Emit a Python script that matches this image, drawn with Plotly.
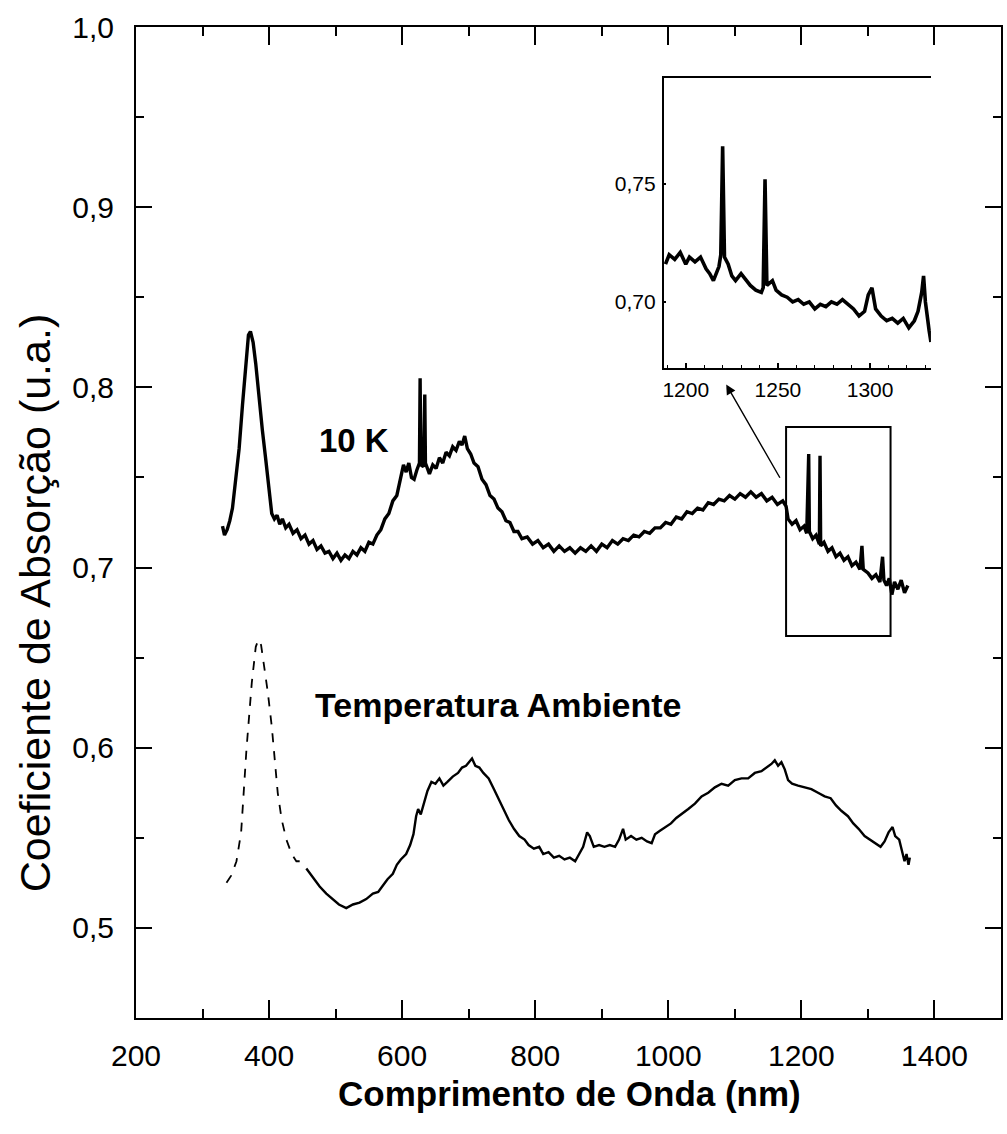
import plotly.graph_objects as go

# ---- tick labels ----
x_tick_vals = [200, 400, 600, 800, 1000, 1200, 1400]
x_tick_text = ["200", "400", "600", "800", "1000", "1200", "1400"]
y_tick_vals = [0.5, 0.6, 0.7, 0.8, 0.9, 1.0]
y_tick_text = ["0,5", "0,6", "0,7", "0,8", "0,9", "1,0"]
inset_x_tick_vals = [1200, 1250, 1300]
inset_x_tick_text = ["1200", "1250", "1300"]
inset_y_tick_vals = [0.70, 0.75]
inset_y_tick_text = ["0,70", "0,75"]

# ---- spectrum at 10 K ----
wl_10k = [330, 333, 337, 341, 345, 350, 355, 360, 365, 369, 372, 376, 380, 385, 390, 395,
          400, 404, 408, 412, 416, 420, 425, 430, 436, 442, 448, 454, 460, 466, 472, 478,
          484, 490, 496, 502, 508, 514, 520, 526, 532, 538, 544, 550, 556, 562, 568, 574,
          580, 586, 592, 597, 602, 606, 610, 614, 618, 622, 626, 627, 628, 632, 634, 635,
          641, 646, 651, 656, 661, 666, 671, 676, 681, 686, 690, 694, 698, 703, 708, 714,
          720, 726, 732, 738, 744, 750, 756, 762, 768, 774, 780, 788, 796, 804, 812, 820,
          828, 836, 844, 852, 860, 868, 876, 884, 892, 900, 908, 916, 924, 932, 940, 948,
          956, 964, 972, 980, 988, 996, 1004, 1012, 1020, 1028, 1036, 1044, 1052, 1060,
          1068, 1076, 1084, 1092, 1100, 1108, 1116, 1124, 1132, 1140, 1148, 1156, 1164,
          1172, 1177, 1180, 1186, 1192, 1198, 1204, 1208, 1211, 1212, 1217, 1222, 1227,
          1228, 1229, 1234, 1240, 1246, 1252, 1258, 1264, 1270, 1276, 1282, 1288, 1291,
          1293, 1300, 1306, 1312, 1318, 1322, 1324, 1328, 1332, 1336, 1340, 1345, 1350,
          1355, 1360]
abs_10k = [0.723, 0.718, 0.721, 0.726, 0.733, 0.748, 0.766, 0.790, 0.815, 0.829, 0.831, 0.825,
           0.813, 0.793, 0.776, 0.760, 0.742, 0.730, 0.727, 0.729, 0.724, 0.727, 0.722, 0.724,
           0.719, 0.721, 0.716, 0.718, 0.713, 0.715, 0.710, 0.712, 0.708, 0.709, 0.705, 0.708,
           0.704, 0.707, 0.705, 0.709, 0.707, 0.711, 0.709, 0.714, 0.713, 0.718, 0.721, 0.727,
           0.730, 0.737, 0.740, 0.748, 0.757, 0.753, 0.758, 0.750, 0.749, 0.754, 0.758, 0.805,
           0.757, 0.756, 0.796, 0.758, 0.752, 0.757, 0.755, 0.761, 0.758, 0.764, 0.762, 0.767,
           0.765, 0.770, 0.768, 0.773, 0.766, 0.763, 0.758, 0.756, 0.749, 0.746, 0.740, 0.738,
           0.733, 0.731, 0.726, 0.725, 0.720, 0.720, 0.716, 0.717, 0.713, 0.715, 0.711, 0.713,
           0.709, 0.712, 0.709, 0.711, 0.708, 0.711, 0.709, 0.712, 0.709, 0.713, 0.711, 0.715,
           0.713, 0.716, 0.715, 0.718, 0.717, 0.720, 0.719, 0.722, 0.722, 0.725, 0.724, 0.728,
           0.727, 0.731, 0.730, 0.733, 0.732, 0.736, 0.735, 0.738, 0.737, 0.740, 0.738, 0.741,
           0.739, 0.742, 0.739, 0.741, 0.737, 0.739, 0.735, 0.737, 0.734, 0.727, 0.724, 0.726,
           0.721, 0.723, 0.719, 0.763, 0.720, 0.716, 0.718, 0.713, 0.762, 0.712, 0.714, 0.709,
           0.711, 0.706, 0.708, 0.704, 0.706, 0.701, 0.703, 0.699, 0.712, 0.699, 0.697, 0.694,
           0.696, 0.692, 0.706, 0.693, 0.690, 0.694, 0.685, 0.692, 0.688, 0.693, 0.686, 0.690]

# ---- spectrum at room temperature ----
wl_rt_uv = [336, 343, 351, 358, 366, 374, 380, 384, 388, 393, 398, 404, 409, 413, 419, 426,
            434, 441, 446]
abs_rt_uv = [0.525, 0.529, 0.537, 0.553, 0.599, 0.636, 0.656, 0.660, 0.657, 0.645, 0.631,
             0.612, 0.592, 0.575, 0.560, 0.549, 0.541, 0.537, 0.537]

wl_rt = [456, 466, 476, 486, 495, 505, 516, 526, 536, 546, 556, 564, 570, 578, 586, 592,
         598, 606, 612, 617, 621, 624, 628, 632, 638, 644, 650, 656, 662, 668, 676, 684,
         690, 696, 701, 705, 710, 716, 722, 730, 738, 746, 754, 760, 768, 776, 784, 790,
         798, 806, 812, 820, 828, 836, 844, 852, 860, 866, 872, 878, 882, 888, 896, 904,
         912, 920, 926, 932, 936, 944, 952, 960, 968, 975, 980, 988, 996, 1004, 1012, 1020,
         1030, 1040, 1050, 1060, 1070, 1080, 1090, 1100, 1110, 1120, 1130, 1140, 1148, 1155,
         1160, 1165, 1170, 1175, 1180, 1186, 1195, 1205, 1215, 1225, 1235, 1244, 1252, 1260,
         1270, 1278, 1286, 1295, 1303, 1311, 1319, 1325, 1331, 1337, 1341, 1347, 1351, 1355,
         1358, 1361, 1363]
abs_rt = [0.533, 0.528, 0.523, 0.519, 0.516, 0.513, 0.511, 0.513, 0.514, 0.516, 0.519, 0.520,
          0.523, 0.527, 0.530, 0.535, 0.538, 0.541, 0.546, 0.552, 0.562, 0.566, 0.563, 0.568,
          0.576, 0.581, 0.580, 0.583, 0.579, 0.581, 0.584, 0.586, 0.589, 0.590, 0.592, 0.594,
          0.590, 0.589, 0.586, 0.583, 0.577, 0.571, 0.565, 0.560, 0.555, 0.551, 0.549, 0.546,
          0.544, 0.545, 0.541, 0.542, 0.539, 0.540, 0.538, 0.539, 0.537, 0.541, 0.545, 0.553,
          0.551, 0.545, 0.546, 0.545, 0.546, 0.545, 0.549, 0.555, 0.549, 0.551, 0.549, 0.550,
          0.548, 0.547, 0.552, 0.554, 0.556, 0.558, 0.561, 0.563, 0.566, 0.569, 0.573, 0.575,
          0.578, 0.580, 0.579, 0.582, 0.583, 0.583, 0.586, 0.587, 0.589, 0.591, 0.593, 0.590,
          0.592, 0.588, 0.582, 0.580, 0.579, 0.578, 0.577, 0.575, 0.573, 0.572, 0.568, 0.565,
          0.562, 0.558, 0.555, 0.551, 0.549, 0.547, 0.545, 0.548, 0.553, 0.556, 0.551, 0.549,
          0.543, 0.537, 0.541, 0.535, 0.539]

# ---- enlarged detail of the 10 K spectrum ----
wl_zoom = [1189, 1191, 1194, 1197, 1200, 1202, 1205, 1208, 1211, 1213, 1215, 1218, 1219,
           1220, 1221, 1223, 1225, 1227, 1230, 1232, 1235, 1238, 1241, 1242, 1243, 1244,
           1247, 1249, 1252, 1255, 1258, 1261, 1264, 1267, 1270, 1273, 1276, 1279, 1282,
           1285, 1288, 1291, 1294, 1297, 1299, 1301, 1303, 1306, 1309, 1312, 1315, 1318,
           1321, 1324, 1326, 1328, 1329, 1330, 1332, 1333]
abs_zoom = [0.716, 0.720, 0.718, 0.721, 0.716, 0.719, 0.717, 0.719, 0.714, 0.712, 0.709,
            0.715, 0.720, 0.766, 0.719, 0.716, 0.711, 0.709, 0.712, 0.710, 0.707, 0.705,
            0.704, 0.706, 0.752, 0.707, 0.709, 0.705, 0.703, 0.702, 0.700, 0.701, 0.699,
            0.700, 0.697, 0.699, 0.698, 0.700, 0.699, 0.701, 0.699, 0.697, 0.694, 0.696,
            0.703, 0.706, 0.697, 0.694, 0.692, 0.693, 0.691, 0.693, 0.689, 0.692, 0.696,
            0.704, 0.711, 0.700, 0.688, 0.683]

# zoomed window marked on the main spectrum
box_wl = (1177, 1334)
box_abs = (0.662, 0.778)

FONT = "Liberation Sans, Arial, sans-serif"
INK = "black"

fig = go.Figure()

fig.add_trace(go.Scatter(x=wl_10k, y=abs_10k, mode="lines",
                         line=dict(color=INK, width=3.4), showlegend=False))
fig.add_trace(go.Scatter(x=wl_rt_uv, y=abs_rt_uv, mode="lines",
                         line=dict(color=INK, width=1.8, dash="dash"), showlegend=False))
fig.add_trace(go.Scatter(x=wl_rt, y=abs_rt, mode="lines",
                         line=dict(color=INK, width=2.4), showlegend=False))
fig.add_trace(go.Scatter(x=wl_zoom, y=abs_zoom, mode="lines", xaxis="x2", yaxis="y2",
                         line=dict(color=INK, width=3.6), showlegend=False))

# frame around the enlarged region
fig.add_shape(type="rect", xref="x", yref="y",
              x0=box_wl[0], x1=box_wl[1], y0=box_abs[0], y1=box_abs[1],
              line=dict(color=INK, width=2))

# arrow from the marked region to the inset
fig.add_annotation(x=1087, y=0.8016, ax=1169, ay=0.749, xref="x", yref="y",
                   axref="x", ayref="y", text="", showarrow=True,
                   arrowhead=2, arrowsize=1.4, arrowwidth=1.4, arrowcolor=INK)

fig.add_annotation(x=528, y=0.7705, xref="x", yref="y", text="<b>10 K</b>",
                   showarrow=False, font=dict(family=FONT, size=33, color=INK))
fig.add_annotation(x=466, y=0.6236, xref="x", yref="y", xanchor="left",
                   text="<b>Temperatura Ambiente</b>", showarrow=False,
                   font=dict(family=FONT, size=34, color=INK))

# axis titles
fig.add_annotation(x=0.5017, y=-0.0757, xref="paper", yref="paper",
                   xanchor="center", yanchor="middle",
                   text="<b>Comprimento de Onda (nm)</b>", showarrow=False,
                   font=dict(family=FONT, size=35, color=INK))
fig.add_annotation(x=-0.1165, y=0.4188, xref="paper", yref="paper", textangle=-90,
                   xanchor="center", yanchor="middle",
                   text="Coeficiente de Absorção (u.a.)", showarrow=False,
                   font=dict(family=FONT, size=43, color=INK))

axis_common = dict(showline=True, linecolor=INK, linewidth=2, ticks="inside",
                   tickcolor=INK, tickwidth=2, showgrid=False, zeroline=False,
                   tickfont=dict(family=FONT, size=30, color=INK))

fig.update_layout(
    width=1007, height=1134,
    margin=dict(l=136, r=4, t=27, b=116),
    paper_bgcolor="white", plot_bgcolor="white",
    xaxis=dict(range=[200, 1500], tickvals=x_tick_vals, ticktext=x_tick_text,
               ticklen=18, mirror="allticks", ticklabelstandoff=10,
               minor=dict(dtick=100, tick0=200, ticklen=9, ticks="inside",
                          tickcolor=INK, tickwidth=2),
               **axis_common),
    yaxis=dict(range=[0.45, 1.0], tickvals=y_tick_vals, ticktext=y_tick_text,
               ticklen=16, mirror="allticks", ticklabelstandoff=14,
               minor=dict(dtick=0.05, tick0=0.5, ticklen=8, ticks="inside",
                          tickcolor=INK, tickwidth=2),
               **axis_common),
    xaxis2=dict(domain=[0.610, 0.919], anchor="y2", range=[1188, 1333],
                tickvals=inset_x_tick_vals, ticktext=inset_x_tick_text,
                showline=True, linecolor=INK, linewidth=2, mirror=True,
                ticks="inside", ticklen=5, tickcolor=INK, tickwidth=1.5,
                minor=dict(dtick=10, tick0=1200, ticklen=3, ticks="inside",
                           tickcolor=INK, tickwidth=1),
                showgrid=False, zeroline=False, ticklabelstandoff=2,
                tickfont=dict(family=FONT, size=21, color=INK)),
    yaxis2=dict(domain=[0.656, 0.9486], anchor="x2", range=[0.672, 0.795],
                tickvals=inset_y_tick_vals, ticktext=inset_y_tick_text,
                showline=True, linecolor=INK, linewidth=1.5,
                ticks="inside", ticklen=3, tickcolor=INK, tickwidth=1.5,
                showgrid=False, zeroline=False, ticklabelstandoff=2,
                tickfont=dict(family=FONT, size=21, color=INK)),
)

fig.write_html("out.html")
